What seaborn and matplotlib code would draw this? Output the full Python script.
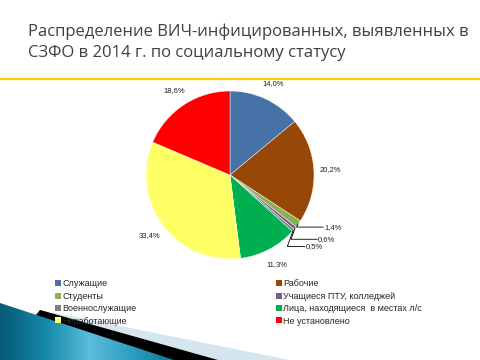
import numpy as np
import matplotlib
matplotlib.use("Agg")
import matplotlib.pyplot as plt
import seaborn as sns
from matplotlib.patches import Polygon, Patch
from matplotlib.lines import Line2D
from matplotlib.colors import LinearSegmentedColormap

sns.set_theme(style="white")
plt.rcParams['font.family'] = ['Liberation Sans', 'DejaVu Sans']

title_lines = ["Распределение ВИЧ-инфицированных, выявленных в",
               "СЗФО в 2014 г. по социальному статусу"]
categories = ["Служащие", "Рабочие", "Студенты", "Учащиеся ПТУ, колледжей",
              "Военнослужащие", "Лица, находящиеся  в местах л/с",
              "Неработающие", "Не установлено"]
values = [14.0, 20.2, 1.4, 0.6, 0.5, 11.3, 33.4, 18.6]
colors = ["#4672A8", "#984806", "#8DB050", "#7A5C9A", "#808080",
          "#00B050", "#FFFF66", "#FF0000"]

W, H = 480, 360
fig = plt.figure(figsize=(W / 100, H / 100), dpi=100)
fig.patch.set_facecolor("white")

# background decoration
bg = fig.add_axes([0, 0, 1, 1], zorder=0)
bg.set_xlim(0, W)
bg.set_ylim(H, 0)
bg.axis("off")
bg.add_patch(Polygon([(40, 310), (290, 360), (0, 360)], closed=True,
                     facecolor="#D5E6EF", edgecolor="none", zorder=1))
bg.add_patch(Polygon([(40, 310), (218, 360), (0, 360)], closed=True,
                     facecolor="black", edgecolor="none", zorder=2))
blue_poly = Polygon([(0, 303), (174, 360), (0, 360)], closed=True,
                    facecolor="none", edgecolor="none", zorder=2)
bg.add_patch(blue_poly)
cmap = LinearSegmentedColormap.from_list(
    "g", ["#065a74", "#1487a8", "#5cbcdb", "#2a9cbf", "#0a7393"])
grad = np.linspace(0, 1, 256).reshape(1, -1)
im = bg.imshow(grad, cmap=cmap, extent=(0, 180, 360, 300), aspect="auto",
               zorder=3)
im.set_clip_path(blue_poly)
bg.set_xlim(0, W)
bg.set_ylim(H, 0)

# yellow rule
fig.add_artist(Line2D([0, 1], [1 - 78.5 / H, 1 - 78.5 / H],
                      color="#FFCC00", lw=1.6, transform=fig.transFigure))

# title
for i, line in enumerate(title_lines):
    fig.text(28 / W, 1 - (36.5 + 20.5 * i) / H, line, ha="left",
             va="baseline", fontsize=12, color="#404040",
             family=["Open Sans", "DejaVu Sans"])

# pie
cx, cy, R = 230, 175, 84
ax = fig.add_axes([(cx - R) / W, (H - cy - R) / H, 2 * R / W, 2 * R / H],
                  zorder=2)
wedges, texts, autotexts = ax.pie(
    values, colors=colors, startangle=90, counterclock=False,
    autopct=lambda p: f"{p:.1f}%".replace(".", ","), pctdistance=1.2,
    wedgeprops=dict(linewidth=0.3, edgecolor="white"),
    textprops=dict(fontsize=5.5, color="#202020"))
ax.set_xlim(-1, 1)
ax.set_ylim(-1, 1)
ax.axis("off")

small = {2: (1.12, -0.62), 3: (1.05, -0.765), 4: (0.90, -0.85)}
for idx, (lx, ly) in small.items():
    w = wedges[idx]
    ang = np.deg2rad((w.theta1 + w.theta2) / 2)
    ex, ey = np.cos(ang), np.sin(ang)
    autotexts[idx].set_position((lx, ly))
    autotexts[idx].set_ha("left")
    autotexts[idx].set_va("center")
    ax.annotate("", xy=(ex, ey), xytext=(lx - 0.01, ly),
                arrowprops=dict(arrowstyle="-", color="black", lw=0.6,
                                shrinkA=0, shrinkB=0,
                                connectionstyle="angle,angleA=180,angleB=%d"
                                % (60 if idx == 2 else 70)),
                annotation_clip=False)

# legend
order = [0, 2, 4, 6, 1, 3, 5, 7]
handles = [Patch(facecolor=colors[i], edgecolor="none") for i in order]
labels = [categories[i] for i in order]
fig.legend(handles, labels, loc="upper left",
           bbox_to_anchor=(55 / W, 1 - 279.5 / H), ncol=2, frameon=False,
           fontsize=6.5, handlelength=0.63, handleheight=0.63,
           handletextpad=0.15, labelspacing=0.37, columnspacing=15.5,
           borderpad=0, borderaxespad=0)

fig.savefig("out.png", dpi=100)
